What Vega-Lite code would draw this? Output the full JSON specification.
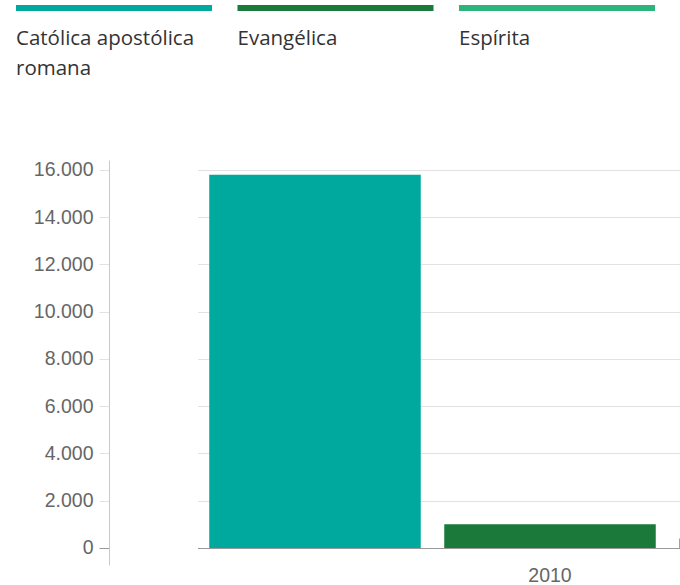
{
  "$schema": "https://vega.github.io/schema/vega-lite/v6.json",
  "padding": {"left": 15, "top": 5, "right": 0, "bottom": 0},
  "background": "white",
  "config": {"view": {"stroke": null}},
  "bounds": "flush",
  "spacing": 149,
  "datasets": {
    "rel": [
      {"ano": "2010", "religiao": "Católica apostólica romana", "valor": 15800},
      {"ano": "2010", "religiao": "Evangélica", "valor": 1000},
      {"ano": "2010", "religiao": "Espírita", "valor": 400}
    ]
  },
  "vconcat": [
    {
      "width": 572,
      "height": 6,
      "data": {"name": "rel"},
      "mark": {"type": "bar"},
      "encoding": {
        "x": {
          "field": "religiao",
          "type": "nominal",
          "sort": null,
          "scale": {"range": [-93, 546], "paddingInner": 0.115, "paddingOuter": 0},
          "axis": {
            "orient": "bottom",
            "title": null,
            "domain": false,
            "ticks": false,
            "tickSize": 0,
            "labelAlign": "left",
            "labelOffset": -98,
            "labelBaseline": "top",
            "labelAngle": 0,
            "labelPadding": 17,
            "labelFont": "Open Sans",
            "labelFontSize": 20.5,
            "labelColor": "#333333",
            "labelLineHeight": 30,
            "labelLimit": 300,
            "labelExpr": "datum.label == 'Católica apostólica romana' ? ['Católica apostólica', 'romana'] : datum.label"
          }
        },
        "color": {
          "field": "religiao",
          "type": "nominal",
          "sort": null,
          "scale": {"domain": ["Católica apostólica romana", "Evangélica", "Espírita"], "range": ["#00A99D", "#1B7A3A", "#2DB37C"]},
          "legend": null
        }
      }
    },
    {
      "width": 572,
      "height": 405,
      "data": {"name": "rel"},
      "mark": {"type": "bar", "clip": true},
      "encoding": {
        "x": {
          "field": "ano",
          "type": "nominal",
          "scale": {"range": [88.5, 793.5], "paddingInner": 0, "paddingOuter": 0},
          "axis": {
            "title": null,
            "domain": false,
            "ticks": false,
            "grid": false,
            "labelAngle": 0,
            "labelPadding": 1,
            "labelFont": "Liberation Sans",
            "labelFontSize": 19.5,
            "labelColor": "#666666"
          }
        },
        "xOffset": {
          "field": "religiao",
          "type": "nominal",
          "sort": null,
          "scale": {"paddingInner": 0.1, "paddingOuter": 0.05}
        },
        "y": {
          "field": "valor",
          "type": "quantitative",
          "scale": {"domain": [-720, 16423], "nice": false, "zero": false},
          "axis": {
            "title": null,
            "values": [0, 2000, 4000, 6000, 8000, 10000, 12000, 14000, 16000],
            "format": ",.0f",
            "labelExpr": "replace(datum.label, ',', '.')",
            "domainColor": "#c8c8c8",
            "tickColor": {"condition": {"test": "datum.value === 0", "value": "#999999"}, "value": "#e2e2e2"},
            "gridColor": {"condition": {"test": "datum.value === 0", "value": "#999999"}, "value": "#e2e2e2"},
            "tickSize": 10,
            "labelPadding": 6,
            "labelFont": "Liberation Sans",
            "labelFontSize": 19.5,
            "labelColor": "#666666"
          }
        },
        "color": {
          "field": "religiao",
          "type": "nominal",
          "sort": null,
          "scale": {"domain": ["Católica apostólica romana", "Evangélica", "Espírita"], "range": ["#00A99D", "#1B7A3A", "#2DB37C"]},
          "legend": null
        }
      }
    }
  ]
}
